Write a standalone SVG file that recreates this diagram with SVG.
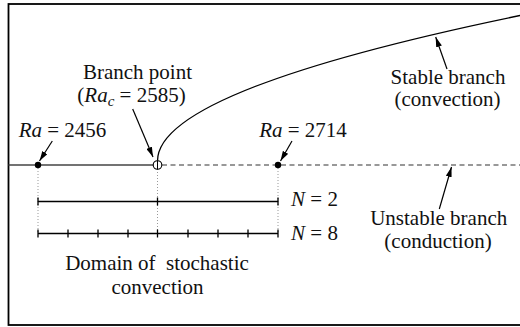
<svg xmlns="http://www.w3.org/2000/svg" width="520" height="327" viewBox="0 0 520 327">
<defs>
<marker id="ah" viewBox="0 0 10 6" refX="10" refY="3" markerWidth="10" markerHeight="6" markerUnits="userSpaceOnUse" orient="auto">
<path d="M0,0 L10,3 L0,6 z" fill="#000"/>
</marker>
</defs>
<rect x="8.5" y="4" width="520" height="321" fill="#fff" stroke="#000" stroke-width="1.8"/>
<g id="connectors">
<line x1="8.5" y1="165" x2="157.5" y2="165" stroke="#444" stroke-width="1.3"/>
<line x1="162" y1="165" x2="520" y2="165" stroke="#333" stroke-width="1.2" stroke-dasharray="5,3.5"/>
<path d="M157.5,161 Q157.5,90.3 520,15.5" fill="none" stroke="#000" stroke-width="1.3"/>
<g stroke="#999" stroke-width="1" stroke-dasharray="1,2" fill="none">
<line x1="38" y1="168" x2="38" y2="233"/>
<line x1="157.5" y1="169" x2="157.5" y2="233"/>
<line x1="278" y1="168" x2="278" y2="233"/>
</g>
<g stroke="#000" stroke-width="1.2" fill="none" marker-end="url(#ah)">
<path d="M52.3,141 L39.5,161"/>
<path d="M132.7,109 L153,157"/>
<path d="M292,141 L280.5,161"/>
<path d="M447,69 L435.7,37"/>
<path d="M439.3,209 L451.5,167"/>
</g>
</g>
<g id="n2">
<path d="M38,201.5 H278 M38,197.5 V205.5 M157.5,197.5 V205.5 M278,197.5 V205.5" stroke="#000" stroke-width="1.3" fill="none"/>
<text x="314.5" y="206" font-family="Liberation Serif, Times New Roman, serif" font-size="21" fill="#111" text-anchor="middle"><tspan font-style="italic">N</tspan> = 2</text>
</g>
<g id="n8">
<path d="M38,233.5 H278 M38,229.5 V237.5 M68,229.5 V237.5 M98,229.5 V237.5 M128,229.5 V237.5 M157.5,229.5 V237.5 M188,229.5 V237.5 M218,229.5 V237.5 M248,229.5 V237.5 M278,229.5 V237.5" stroke="#000" stroke-width="1.3" fill="none"/>
<text x="314.5" y="239.5" font-family="Liberation Serif, Times New Roman, serif" font-size="21" fill="#111" text-anchor="middle"><tspan font-style="italic">N</tspan> = 8</text>
</g>
<g id="ra2456">
<circle cx="38" cy="165" r="3.2" fill="#000"/>
<text x="62.5" y="137" font-family="Liberation Serif, Times New Roman, serif" font-size="21" fill="#111" text-anchor="middle"><tspan font-style="italic">Ra</tspan> = 2456</text>
</g>
<g id="branch">
<circle cx="157.5" cy="165" r="4.3" fill="#fff" stroke="#000" stroke-width="1.1"/>
<line x1="157.5" y1="161" x2="157.5" y2="169.3" stroke="#000" stroke-width="1"/>
<text x="137.5" y="79" font-family="Liberation Serif, Times New Roman, serif" font-size="21" fill="#111" text-anchor="middle">Branch point</text>
<text x="131.5" y="102" font-family="Liberation Serif, Times New Roman, serif" font-size="21" fill="#111" text-anchor="middle">(<tspan font-style="italic">Ra</tspan><tspan font-style="italic" font-size="15" dy="4">c</tspan><tspan dy="-4"> = 2585)</tspan></text>
</g>
<g id="ra2714">
<circle cx="278" cy="165" r="3.2" fill="#000"/>
<text x="303" y="137" font-family="Liberation Serif, Times New Roman, serif" font-size="21" fill="#111" text-anchor="middle"><tspan font-style="italic">Ra</tspan> = 2714</text>
</g>
<g id="stable">
<text x="448" y="83.5" font-family="Liberation Serif, Times New Roman, serif" font-size="21" fill="#111" text-anchor="middle">Stable branch</text>
<text x="447.5" y="106" font-family="Liberation Serif, Times New Roman, serif" font-size="21" fill="#111" text-anchor="middle">(convection)</text>
</g>
<g id="unstable">
<text x="438.7" y="225" font-family="Liberation Serif, Times New Roman, serif" font-size="21" fill="#111" text-anchor="middle">Unstable branch</text>
<text x="438" y="248" font-family="Liberation Serif, Times New Roman, serif" font-size="21" fill="#111" text-anchor="middle">(conduction)</text>
</g>
<g id="domain">
<text x="157" y="270" font-family="Liberation Serif, Times New Roman, serif" font-size="21" fill="#111" text-anchor="middle" xml:space="preserve">Domain of  stochastic</text>
<text x="157.5" y="294" font-family="Liberation Serif, Times New Roman, serif" font-size="21" fill="#111" text-anchor="middle">convection</text>
</g>
</svg>
